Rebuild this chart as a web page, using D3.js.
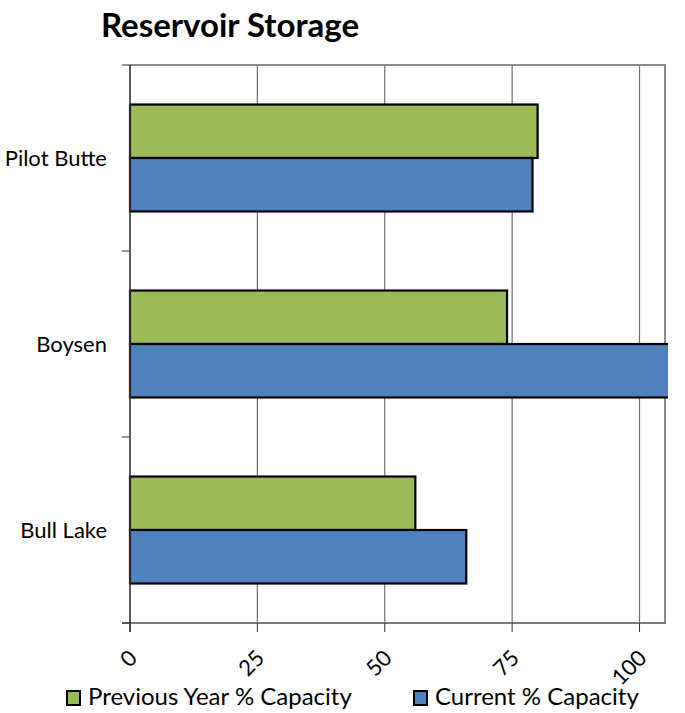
<!DOCTYPE html>
<html>
<head>
<meta charset="utf-8">
<script src="https://cdn.jsdelivr.net/npm/d3@7"></script>
<style>
  body { margin: 0; background: #fff; }
  svg { display: block; font-family: Lato, "Open Sans", sans-serif; }
</style>
</head>
<body>
<svg id="chart" width="685" height="713"></svg>
<script>
// Reservoir storage, percent of capacity
const reservoirs = ["Pilot Butte", "Boysen", "Bull Lake"];
const previousYear = [80, 74, 56];
const current = [79, 108, 66];
const seriesNames = ["Previous Year % Capacity", "Current % Capacity"];
const seriesColors = ["#9BBB59", "#4F81BD"];
const xTicks = [0, 25, 50, 75, 100];

const svg = d3.select("#chart");
const plot = { left: 130, right: 665, top: 65, bottom: 623 };

const x = d3.scaleLinear().domain([0, 105]).range([plot.left, plot.right]);
const y = d3.scaleBand().domain(reservoirs)
  .range([plot.top, plot.bottom])
  .paddingInner(0.425).paddingOuter(0.2125);
const sub = d3.scaleBand().domain([0, 1]).range([0, y.bandwidth()]);

// Title
svg.append("text")
  .attr("x", 230).attr("y", 37)
  .attr("text-anchor", "middle")
  .attr("font-size", 33).attr("font-weight", "bold")
  .attr("fill", "#000")
  .text("Reservoir Storage");

// Vertical gridlines
svg.append("g")
  .selectAll("line")
  .data(xTicks.filter(t => t > 0))
  .join("line")
  .attr("x1", d => x(d)).attr("x2", d => x(d))
  .attr("y1", plot.top).attr("y2", plot.bottom)
  .attr("stroke", "#6e6e6e").attr("stroke-width", 1.2);

// Top and right frame
svg.append("path")
  .attr("d", `M${plot.left},${plot.top}H${plot.right}V${plot.bottom}`)
  .attr("fill", "none").attr("stroke", "#8c8c8c").attr("stroke-width", 2);

// Bars, clipped to the plot area
svg.append("clipPath").attr("id", "plot-clip")
  .append("rect")
  .attr("x", plot.left - 2).attr("y", plot.top)
  .attr("width", plot.right - plot.left + 5)
  .attr("height", plot.bottom - plot.top);

const rows = reservoirs.map((name, i) => ({ name, values: [previousYear[i], current[i]] }));
const barG = svg.append("g").attr("clip-path", "url(#plot-clip)");
barG.selectAll("g")
  .data(rows)
  .join("g")
  .attr("transform", d => `translate(0,${y(d.name)})`)
  .selectAll("rect")
  .data(d => d.values.map((v, s) => ({ v, s })))
  .join("rect")
  .attr("x", x(0))
  .attr("y", d => sub(d.s))
  .attr("width", d => x(d.v) - x(0))
  .attr("height", sub.bandwidth())
  .attr("fill", d => seriesColors[d.s])
  .attr("stroke", "#000").attr("stroke-width", 2.2);

// Bottom axis
const xAxis = svg.append("g")
  .attr("transform", `translate(0,${plot.bottom})`);
xAxis.append("line")
  .attr("x1", plot.left - 8).attr("x2", plot.right + 1)
  .attr("stroke", "#7a7a7a").attr("stroke-width", 2);
xAxis.selectAll("line.tick")
  .data(xTicks)
  .join("line").attr("class", "tick")
  .attr("x1", d => x(d)).attr("x2", d => x(d))
  .attr("y1", 0).attr("y2", 9)
  .attr("stroke", "#333").attr("stroke-width", 1);
xAxis.selectAll("text")
  .data(xTicks)
  .join("text")
  .attr("transform", d => `translate(${x(d) + 3},${31}) rotate(-45)`)
  .attr("text-anchor", "end")
  .attr("dy", "0.35em")
  .attr("font-size", 22)
  .attr("fill", "#000")
  .text(d => d);

// Left axis with category labels
const yAxis = svg.append("g");
yAxis.append("line")
  .attr("x1", plot.left).attr("x2", plot.left)
  .attr("y1", plot.top).attr("y2", plot.bottom + 9)
  .attr("stroke", "#333").attr("stroke-width", 1.6);
const bounds = reservoirs.map(r => y(r) - y.step() * y.paddingInner() / 2).concat([plot.bottom]);
yAxis.selectAll("line.tick")
  .data(bounds)
  .join("line").attr("class", "tick")
  .attr("x1", plot.left - 8).attr("x2", plot.left)
  .attr("y1", d => d).attr("y2", d => d)
  .attr("stroke", "#333").attr("stroke-width", 1);
yAxis.selectAll("text")
  .data(reservoirs)
  .join("text")
  .attr("x", 107)
  .attr("y", d => y(d) + y.bandwidth() / 2)
  .attr("dy", "0.35em")
  .attr("text-anchor", "end")
  .attr("font-size", 22)
  .attr("fill", "#000")
  .text(d => d);

// Legend
const legendX = [66, 413];
const legend = svg.append("g").selectAll("g")
  .data(seriesNames)
  .join("g")
  .attr("transform", (d, i) => `translate(${legendX[i]},690)`);
legend.append("rect")
  .attr("x", 1).attr("y", 1).attr("width", 13).attr("height", 14)
  .attr("fill", (d, i) => seriesColors[i])
  .attr("stroke", "#000").attr("stroke-width", 2);
legend.append("text")
  .attr("x", 22).attr("y", 15)
  .attr("font-size", 24)
  .attr("fill", "#000")
  .text(d => d);
</script>
</body>
</html>
